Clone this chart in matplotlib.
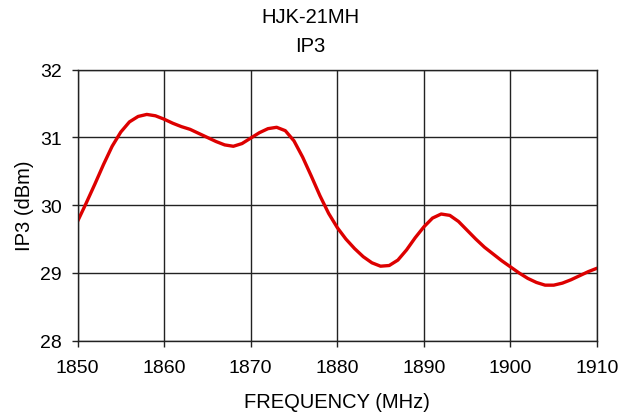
import matplotlib
matplotlib.use("Agg")
import matplotlib.pyplot as plt

# Data
freq = [1850, 1851, 1852, 1853, 1854, 1855, 1856, 1857, 1858, 1859,
        1860, 1861, 1862, 1863, 1864, 1865, 1866, 1867, 1868, 1869,
        1870, 1871, 1872, 1873, 1874, 1875, 1876, 1877, 1878, 1879,
        1880, 1881, 1882, 1883, 1884, 1885, 1886, 1887, 1888, 1889,
        1890, 1891, 1892, 1893, 1894, 1895, 1896, 1897, 1898, 1899,
        1900, 1901, 1902, 1903, 1904, 1905, 1906, 1907, 1908, 1909, 1910]
ip3 = [29.76, 30.03, 30.31, 30.60, 30.87, 31.08, 31.23, 31.31, 31.34, 31.32,
       31.27, 31.21, 31.16, 31.12, 31.06, 31.00, 30.94, 30.89, 30.87, 30.91,
       30.99, 31.07, 31.13, 31.15, 31.10, 30.95, 30.71, 30.43, 30.14, 29.88,
       29.67, 29.50, 29.36, 29.24, 29.15, 29.10, 29.11, 29.19, 29.34, 29.52,
       29.68, 29.81, 29.87, 29.85, 29.76, 29.63, 29.50, 29.38, 29.28, 29.18,
       29.09, 29.00, 28.92, 28.86, 28.82, 28.82, 28.85, 28.90, 28.96, 29.02, 29.07]
x_ticks = [1850, 1860, 1870, 1880, 1890, 1900, 1910]
y_ticks = [28, 29, 30, 31, 32]

plt.rcParams['font.family'] = ['Liberation Sans', 'DejaVu Sans']
plt.rcParams['font.size'] = 14

fig = plt.figure(figsize=(6.21, 4.14), dpi=100)
ax = fig.add_axes([0.1248, 0.1746, 0.8366, 0.6546])

ax.plot(freq, ip3, color='#dd0000', linewidth=2.4,
        solid_capstyle='round', solid_joinstyle='round')

ax.set_xlim(1850, 1910)
ax.set_ylim(28, 32)
ax.set_xticks(x_ticks)
ax.set_yticks(y_ticks)
ax.grid(True, color='#222222', linewidth=1.0)
ax.set_axisbelow(True)
for s in ax.spines.values():
    s.set_color('#222222')
    s.set_linewidth(1.0)
ax.tick_params(direction='out', length=4.5, width=1, color='#222222')
ax.tick_params(axis='x', pad=9)
ax.tick_params(axis='y', pad=7)

ax.set_xlabel('FREQUENCY (MHz)', fontsize=14.5, labelpad=11)
ax.set_ylabel('IP3 (dBm)', fontsize=14.5, labelpad=4)
fig.text(0.5, 0.958, 'HJK-21MH', ha='center', va='center', fontsize=14.5)
fig.text(0.5, 0.888, 'IP3', ha='center', va='center', fontsize=14.5)

fig.savefig('out.png', dpi=100)
